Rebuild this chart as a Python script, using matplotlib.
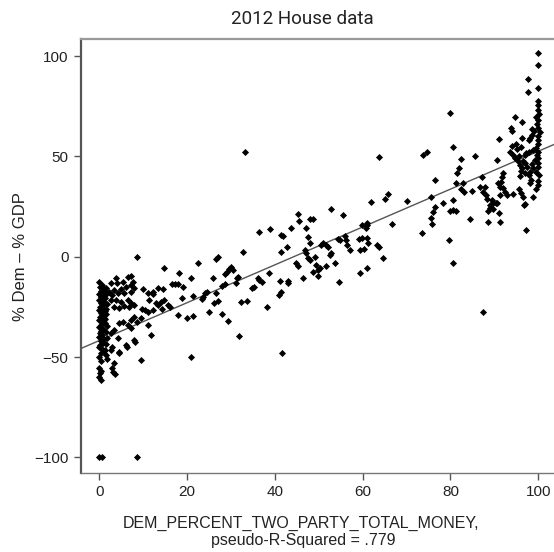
import matplotlib
matplotlib.use("Agg")
import matplotlib.pyplot as plt
import numpy as np

# Districts where the Democrat raised (almost) none of the two-party money
zero_x = [0.0, 0.6, 0.2, 1.0, 0.4, 0.8, 0.0, 1.2, 0.3, 0.7, 0.0, 1.1, 0.5, 0.9,
          0.1, 0.6, 0.0, 1.3, 0.4, 0.8, 0.2, 1.0, 0.0, 0.6, 1.2, 0.3, 0.0, 0.9,
          0.5, 0.1, 0.7, 0.0, 1.1, 0.4, 0.8, 0.2, 0.0, 0.6, 1.0, 0.3, 0.0, 0.5,
          0.0, 0.4, 0.2, 0.0, 0.3,
          1.5, 1.7, 1.4, 1.8, 1.5, 1.6, 1.4, 1.7, 1.5, 1.8, 1.6, 1.4, 1.5, 1.7]
zero_y = [-12.5, -14, -15, -16, -17, -17.5, -18.5, -19, -20, -21, -21.5, -22.5,
          -23, -24, -25, -25.5, -26.5, -27, -28, -29, -30, -30.5, -31.5, -32.5,
          -33, -34, -35, -36, -37, -38, -39, -40, -41, -42, -43, -44, -45, -46,
          -47, -48, -50, -52, -55.7, -57, -58.2, -60, -61.5,
          -15.5, -18, -20.5, -23.5, -26, -28.5, -31, -34.5, -37.5, -40.5, -43.5,
          -46.5, -49, -51]

# Low Democratic money share
low_x = [2.7, 3.8, 4.0, 5.3, 6.5, 7.2, 7.6, 7.2, 6.1, 5.0, 3.4, 2.3, 3.0, 4.2,
         5.7, 7.2, 8.0, 2.7, 3.8, 5.0, 6.5, 7.2, 3.4, 4.6, 5.7, 6.8, 8.0, 9.9,
         11.0, 12.2, 13.3, 14.4, 11.4, 12.9, 14.1, 14.8, 15.6, 10.3, 11.0, 12.2,
         9.5, 8.0, 7.2, 5.3, 4.6, 6.5, 7.2, 3.4, 2.7, 4.2, 6.1, 3.0, 2.7, 4.6,
         8.0, 11.0, 11.8, 3.4, 9.5, 14.8, 8.7, 2.8, 3.2, 3.6, 4.6, 6.2, 8.1, 9.7,
         8.7, 14.2, 13.4, 12.2,
         18.2, 20.8, 16.5, 17.3, 18.0, 19.0, 18.8, 21.3, 16.1, 18.0, 19.9, 21.4,
         22.4, 20.8]
low_y = [-12.9, -10.8, -13.3, -12.4, -10, -9.6, -12.4, -14.1, -14.9, -16.3,
         -16.6, -17.4, -19.1, -18.3, -18.3, -17.4, -15.8, -21.6, -21.6, -22.4,
         -21.6, -23.3, -24.9, -25.8, -24.6, -24.9, -24.1, -16.3, -18.3, -17.4,
         -15.8, -16.3, -21.6, -23.3, -22.4, -21.6, -24.1, -26.6, -27.4, -26.6,
         -30.7, -29.9, -31.6, -32.4, -32.9, -34.1, -35.7, -36.6, -38.2, -40.7,
         -44.0, -44.9, -46.5, -47.4, -41.5, -34.1, -39.1, -53.2, -51.5, -5.8,
         -0.3, -55.7, -57.3, -58.5, -48.2, -44.9, -42.4, -26, -32.4, -26.3,
         -24.1, -18.6,
         -8.3, -10.5, -13.6, -13.6, -13.6, -15.3, -20.8, -19.6, -25.3, -29.1,
         -30.4, -29.6, -3.3, -50.2]

# Competitive middle range
mid_x = [33.3, 63.8, 73.7, 74.6, 76.5, 65.8, 65.1, 61.8, 70.0, 75.5, 76.6, 76.0,
         75.5, 75.9, 73.6, 66.8, 52.8, 55.6, 45.3, 45.6, 48.0, 48.8, 43.7, 38.9,
         36.4, 41.5, 41.8, 47.2, 47.6, 48.0, 42.7, 41.5, 32.8, 27.1, 26.7, 30.0,
         29.6, 30.5, 29.0, 28.6, 31.3, 31.7, 26.0, 27.9, 28.6, 31.1, 24.1, 24.6,
         26.6, 23.3, 26.2, 27.0, 25.1, 27.9, 29.4, 31.9, 32.2, 33.6, 34.7, 35.2,
         36.2, 36.4, 37.0, 38.7, 38.1, 41.0, 41.4, 41.2, 42.9, 42.9, 44.9, 45.3,
         46.5, 46.9, 47.2, 47.6, 48.0, 49.1, 49.4, 48.8, 49.9, 50.3, 49.9, 51.6,
         50.5, 51.0, 51.6, 52.2, 52.5, 52.9, 53.7, 54.7, 54.4, 54.8, 55.9, 56.3,
         56.5, 57.1, 59.8, 59.2, 60.9, 61.3, 59.4, 60.2, 59.4, 60.9, 59.8, 60.9,
         61.1, 60.7, 63.2, 63.8, 64.7, 23.7, 41.7]
mid_y = [52.4, 49.9, 50.7, 52.4, 38.3, 31.3, 28.9, 27.4, 27.9, 29.6, 25.0, 22.5,
         19.2, 16.4, 11.6, 16.4, 23.8, 20.8, 21.3, 18.0, 18.8, 18.8, 14.2, 13.7,
         12.3, 10.7, 10.3, 14.2, 10.0, 6.7, 4.7, 2.2, 2.2, 0.0, -1.3, -5.0,
         -6.3, -6.7, -7.5, -8.7, -10.8, -10.0, -10.8, -14.6, -13.8, -13.0, -17.9,
         -17.4, -18.3, -21.2, -23.3, -22.0, -27.4, -28.7, -32.0, -39.5, -22.5,
         -22.0, -15.4, -14.9, -10.8, -11.6, -12.4, -8.3, -24.9, -19.1, -17.4,
         -12.1, -12.1, -13.0, -3.3, -4.6, -10.8, 3.3, 1.7, -0.8, -1.7, -0.1,
         -4.2, -7.5, -6.7, -5.8, -9.6, -4.6, 5.8, 6.7, 5.8, 5.0, 0.9, 1.7, -3.0,
         -12.4, 9.1, 8.3, 10.4, 8.3, 6.1, 3.3, 9.6, 9.1, 9.6, 6.7, 3.4, 3.9,
         -8.0, -5.8, 15.8, 17.0, 15.8, 14.2, 5.8, 4.7, -0.8, -19.9, -48.2]

# Districts where the Democrat dominated fundraising
high_x = [80.0, 80.5, 82.5, 81.9, 81.5, 85.6, 81.3, 82.8, 82.4, 83.1, 87.1, 85.0,
          86.7, 87.5, 88.2, 78.2, 80.6, 80.6, 79.9, 81.3, 84.5, 88.6, 89.0, 89.8,
          90.5, 88.6, 91.3, 91.1, 79.7, 80.6,
          100.0, 100.0, 97.7, 97.7, 100.0, 100.0, 100.0, 100.0, 100.2, 99.6,
          100.0, 94.7, 96.4, 93.7, 94.0, 98.5, 99.0, 98.7, 98.1, 97.9, 96.4, 91.1,
          96.0, 95.2, 94.3, 94.7, 95.4, 95.8, 96.4, 95.6, 96.9, 97.3, 97.9, 98.8,
          99.6, 99.7, 100.0, 99.2, 98.5, 98.8, 98.1, 99.6, 100.2, 97.9, 98.3,
          98.1, 95.8, 90.5, 87.9, 92.0, 91.8, 91.6, 90.9, 91.3, 92.0, 92.4, 92.8,
          91.3, 90.4, 89.8, 89.0, 88.4, 89.4, 94.3, 95.6, 96.0, 96.5, 96.7, 97.1,
          98.9, 97.3, 87.5,
          100.0, 100.0, 100.0, 100.3, 100.0, 99.8, 100.0, 100.0, 100.0, 100.0,
          100.0, 99.5, 93.5, 94.0, 95.0, 96.5, 97.0, 97.5, 96.0, 97.0]
high_y = [71.5, 54.6, 48.6, 44.1, 41.6, 50.2, 37.0, 36.6, 33.7, 32.5, 39.6, 33.0,
          35.0, 32.5, 30.8, 26.6, 28.3, 23.3, 23.0, 23.0, 19.0, 22.6, 26.0, 23.9,
          26.6, 17.5, 17.5, 21.6, 8.6, -3.0,
          101.4, 95.6, 88.6, 82.0, 84.0, 77.7, 75.7, 73.2, 71.2, 69.5, 68.2, 69.5,
          67.4, 64.1, 62.5, 63.6, 62.5, 60.8, 59.2, 58.3, 59.0, 58.6, 54.6, 53.6,
          50.7, 49.1, 47.9, 45.8, 44.1, 50.2, 50.7, 51.9, 52.4, 53.3, 54.1, 50.7,
          49.1, 48.3, 46.3, 44.1, 42.5, 42.5, 40.8, 40.8, 38.3, 36.6, 40.3, 48.3,
          35.0, 41.6, 40.0, 37.5, 36.6, 35.0, 34.1, 32.5, 30.8, 30.8, 26.6, 27.0,
          24.1, 28.6, 28.3, 31.3, 33.7, 31.6, 30.0, 25.8, 26.3, 30.0, 13.1, -27.7,
          56.0, 58.0, 60.0, 62.0, 64.0, 66.0, 45.0, 47.0, 52.0, 38.0, 36.0, 34.0,
          52.0, 55.0, 56.0, 48.0, 47.0, 45.0, 43.0, 42.0]

# Uncontested seats
floor_x = [0.0, 0.6, 8.5]
floor_y = [-100, -100, -100]

# Fitted line
fit_slope = 0.944
fit_intercept = -41.8

x = np.concatenate([zero_x, low_x, mid_x, high_x, floor_x])
y = np.concatenate([zero_y, low_y, mid_y, high_y, floor_y])

plt.rcParams["font.family"] = ["Liberation Sans", "DejaVu Sans"]
text_color = "#222222"

fig = plt.figure(figsize=(5.54, 5.52), dpi=100)
W, H = 554, 552
ax = fig.add_axes([81 / W, 1 - 472.7 / H, 1 - 81 / W, (472.7 - 39) / H])

ax.scatter(x, y, s=13, marker="D", color="black", linewidths=0, zorder=3)
ax.axline((0, fit_intercept), slope=fit_slope, color="#555555", lw=1.0, zorder=2)

ax.set_xlim(-4.17, 103.6)
ax.set_ylim(-107.7, 108.6)
ax.set_xticks([0, 20, 40, 60, 80, 100])
ax.set_yticks([-100, -50, 0, 50, 100])
ax.tick_params(direction="out", length=5, width=1, color="#555555",
               labelsize=11, labelcolor=text_color, pad=4)

ax.spines["right"].set_visible(False)
ax.spines["left"].set_color("#555555")
ax.spines["left"].set_linewidth(1.6)
ax.spines["top"].set_color("#999999")
ax.spines["top"].set_linewidth(1.6)
ax.spines["bottom"].set_color("#777777")
ax.spines["bottom"].set_linewidth(1.0)

fig.text(302 / W, 1 - 19 / H, "2012 House data", ha="center", va="center",
         fontsize=13.5, color=text_color, family=["Roboto", "DejaVu Sans"])
fig.text(301 / W, 1 - 528 / H, "DEM_PERCENT_TWO_PARTY_TOTAL_MONEY,",
         ha="center", va="baseline", fontsize=11.5, color=text_color)
fig.text(303 / W, 1 - 545 / H, "pseudo-R-Squared = .779",
         ha="center", va="baseline", fontsize=11.5, color=text_color)
fig.text(21 / W, 1 - 257 / H, "% Dem \u2013 % GDP", ha="center", va="center",
         rotation=90, fontsize=12, color=text_color)

fig.savefig("out.png", dpi=100, facecolor="white")
